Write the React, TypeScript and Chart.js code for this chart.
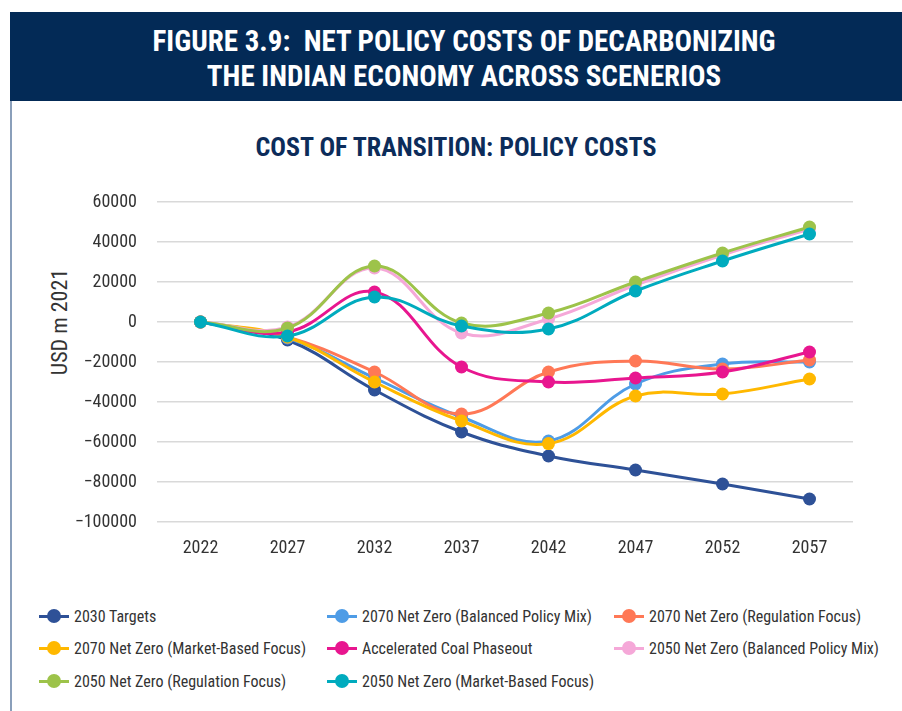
import React, { useEffect, useRef } from "react";
import { Chart, registerables } from "chart.js";

Chart.register(...registerables);

const years = ["2022", "2027", "2032", "2037", "2042", "2047", "2052", "2057"];

const targets2030 = [0, -9000, -34000, -55000, -67000, -74000, -81000, -88500];
const nz2070Balanced = [0, -8000, -28000, -47500, -59500, -31000, -21000, -20000];
const nz2070Regulation = [0, -7500, -25000, -46000, -25000, -19500, -23500, -19000];
const nz2070Market = [0, -7500, -30000, -49500, -60800, -37000, -36000, -28500];
const coalPhaseout = [0, -5000, 15000, -22500, -30000, -28000, -25000, -15000];
const nz2050Balanced = [0, -2500, 27000, -5500, 1500, 18500, 33500, 46500];
const nz2050Regulation = [0, -3000, 28000, -500, 4500, 20000, 34500, 47500];
const nz2050Market = [0, -7000, 12500, -2000, -3500, 15500, 30500, 44000];

const seriesNames = [
  "2030 Targets",
  "2070 Net Zero (Balanced Policy Mix)",
  "2070 Net Zero (Regulation Focus)",
  "2070 Net Zero (Market-Based Focus)",
  "Accelerated Coal Phaseout",
  "2050 Net Zero (Balanced Policy Mix)",
  "2050 Net Zero (Regulation Focus)",
  "2050 Net Zero (Market-Based Focus)",
];
const seriesValues = [
  targets2030,
  nz2070Balanced,
  nz2070Regulation,
  nz2070Market,
  coalPhaseout,
  nz2050Balanced,
  nz2050Regulation,
  nz2050Market,
];
const seriesColors = [
  "#2E5197",
  "#4E9CE6",
  "#FF7856",
  "#FFB800",
  "#E8168F",
  "#F5A8D8",
  "#9DC34A",
  "#00ABBE",
];

const yMin = -100000;
const yMax = 60000;
const yStep = 20000;
const yTitle = "USD m 2021";

const FONT = "'Roboto Condensed', Roboto, sans-serif";

const legendCols = [39, 327, 614];
const legendRows = [616, 648, 681];

function LegendItem({ name, color, x, y }: { name: string; color: string; x: number; y: number }) {
  return (
    <div
      style={{
        position: "absolute",
        left: x,
        top: y - 11,
        height: 22,
        display: "flex",
        alignItems: "center",
        whiteSpace: "nowrap",
      }}
    >
      <div style={{ position: "relative", width: 30, height: 14 }}>
        <div style={{ position: "absolute", left: 0, top: 5.5, width: 30, height: 3, background: color }} />
        <div
          style={{
            position: "absolute",
            left: 8,
            top: 0,
            width: 14,
            height: 14,
            borderRadius: "50%",
            background: color,
          }}
        />
      </div>
      <span style={{ marginLeft: 5, fontFamily: FONT, fontSize: 16, color: "#333" }}>{name}</span>
    </div>
  );
}

export default function App() {
  const ref = useRef<HTMLCanvasElement>(null);

  useEffect(() => {
    const canvas = ref.current!;
    const chart = new Chart(canvas, {
      type: "line",
      data: {
        labels: years,
        datasets: seriesNames.map((name, i) => ({
          label: name,
          data: seriesValues[i],
          borderColor: seriesColors[i],
          backgroundColor: seriesColors[i],
          pointBackgroundColor: seriesColors[i],
          pointBorderColor: seriesColors[i],
          pointBorderWidth: 0,
          pointRadius: 6.5,
          borderWidth: 3,
          tension: 0.4,
          fill: false,
          order: -i,
        })),
      },
      options: {
        animation: false,
        responsive: false,
        maintainAspectRatio: false,
        layout: { padding: { left: 47, right: 49, top: 22, bottom: 0 } },
        plugins: {
          legend: { display: false },
          tooltip: { enabled: false },
          title: { display: false },
        },
        scales: {
          x: {
            offset: true,
            grid: { display: false, drawTicks: false },
            border: { display: false },
            ticks: {
              padding: 16,
              color: "#333",
              font: { family: FONT, size: 18 },
              maxRotation: 0,
            },
            afterFit: (s: any) => {
              s.height = 48;
            },
          },
          y: {
            min: yMin,
            max: yMax,
            grid: {
              color: "#D9D9D9",
              lineWidth: 1.5,
              drawTicks: true,
              tickLength: 17,
              tickColor: "rgba(0,0,0,0)",
            },
            border: { display: false },
            ticks: {
              stepSize: yStep,
              padding: 3,
              color: "#333",
              font: { family: FONT, size: 18 },
              callback: (v: any) => String(v).replace("-", "\u2212"),
            },
            title: { display: false },
            afterFit: (s: any) => {
              s.width = 157 - 47;
            },
          },
        },
      },
    });
    return () => chart.destroy();
  }, []);

  return (
    <div
      style={{
        position: "absolute",
        left: 0,
        top: 0,
        width: 902,
        height: 711,
        overflow: "hidden",
        background: "#fff",
      }}
    >
      <div style={{ position: "absolute", left: 10, top: 100, width: 2, height: 611, background: "#8A9FBA" }} />
      <div
        style={{
          position: "absolute",
          left: 10,
          top: 12,
          width: 892,
          height: 89,
          background: "#032A56",
        }}
      />
      <div
        style={{
          position: "absolute",
          left: 10,
          top: 24,
          width: 908,
          textAlign: "center",
          color: "#fff",
          fontFamily: FONT,
          fontWeight: 700,
          fontSize: 29,
          lineHeight: "35px",
        }}
      >
        <div>FIGURE 3.9:&nbsp; NET POLICY COSTS OF DECARBONIZING</div>
        <div>THE INDIAN ECONOMY ACROSS SCENERIOS</div>
      </div>
      <div
        style={{
          position: "absolute",
          left: 0,
          top: 132,
          width: 912,
          textAlign: "center",
          color: "#0C2C5A",
          fontFamily: FONT,
          fontWeight: 700,
          fontSize: 26,
          lineHeight: "30px",
        }}
      >
        COST OF TRANSITION: POLICY COSTS
      </div>
      <div
        style={{
          position: "absolute",
          left: 60,
          top: 322,
          transform: "translate(-50%, -50%) rotate(-90deg)",
          whiteSpace: "nowrap",
          fontFamily: FONT,
          fontSize: 22,
          lineHeight: "26px",
          color: "#333",
        }}
      >
        {yTitle}
      </div>
      <canvas
        ref={ref}
        width={902}
        height={390}
        style={{ position: "absolute", left: 0, top: 180, width: 902, height: 390 }}
      />
      {seriesNames.map((name, i) => (
        <LegendItem
          key={name}
          name={name}
          color={seriesColors[i]}
          x={legendCols[i % 3]}
          y={legendRows[Math.floor(i / 3)]}
        />
      ))}
    </div>
  );
}
